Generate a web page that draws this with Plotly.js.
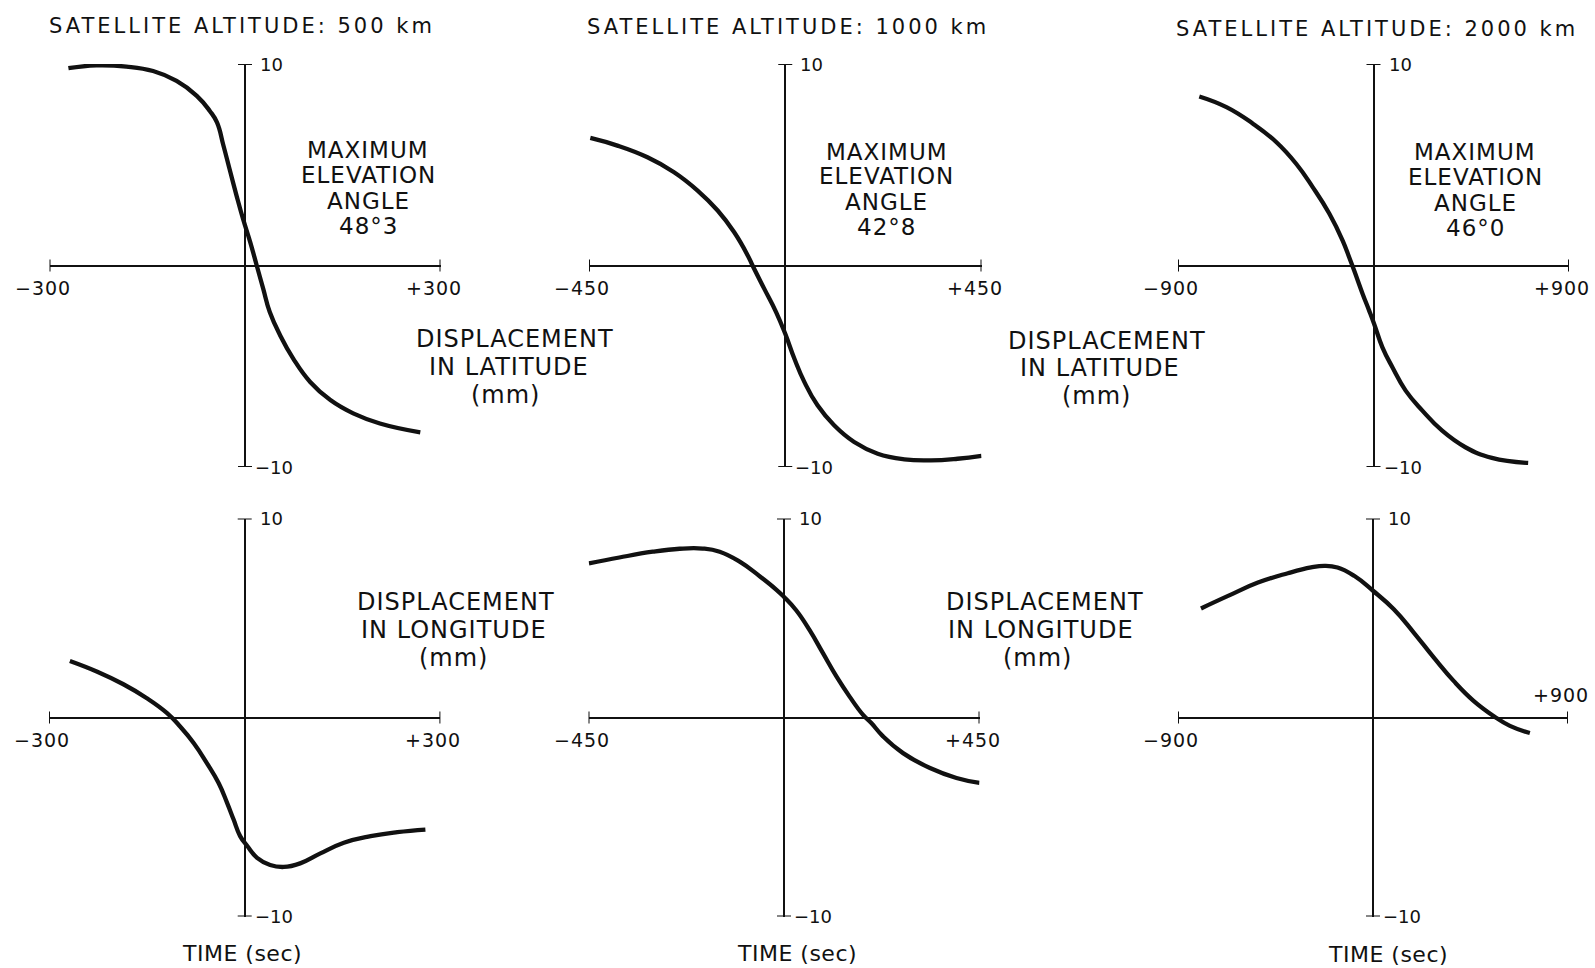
<!DOCTYPE html>
<html><head><meta charset="utf-8">
<script src="https://cdn.plot.ly/plotly-3.0.1.min.js"></script>
<style>html,body{margin:0;padding:0;background:#fff;}</style>
</head><body><div id="chart" style="width:1595px;height:968px;"></div>
<script>
// ---- data ----
const altitudes = ['500', '1000', '2000'];
const halfSpan = [300, 450, 900];
const elevationAngles = ['48°3', '42°8', '46°0'];
const xTickText = [['−300', '+300'], ['−450', '+450'], ['−900', '+900']];
const yTickText = ['10', '−10'];

// latitude displacement (mm) vs time (s)
const lat500T = [-271, -228, -182, -141, -105, -74, -54, -43, -33, -23, -13, -3, 8, 18, 28, 38, 54, 74, 100, 131, 166, 207, 269];
const lat500D = [9.79, 9.93, 9.87, 9.65, 9.16, 8.42, 7.67, 7.10, 5.94, 4.70, 3.47, 2.31, 1.16, 0.00, -1.16, -2.31, -3.47, -4.62, -5.78, -6.68, -7.34, -7.84, -8.28];
const lat1000T = [-447, -385, -316, -255, -201, -155, -117, -86, -75, -48, -21, 0, 21, 44, 74, 112, 158, 212, 273, 334, 395, 450];
const lat1000D = [6.33, 5.95, 5.37, 4.63, 3.72, 2.73, 1.65, 0.50, 0.00, -1.16, -2.31, -3.39, -4.63, -5.79, -6.94, -7.93, -8.76, -9.34, -9.62, -9.67, -9.59, -9.45];
const lat2000T = [-802, -677, -555, -448, -356, -280, -203, -142, -112, -89, -50, -20, 3, 41, 87, 148, 225, 316, 423, 545, 712];
const lat2000D = [8.39, 7.86, 7.04, 6.13, 5.05, 3.89, 2.57, 1.24, 0.41, -0.25, -1.41, -2.24, -2.90, -4.06, -5.05, -6.21, -7.20, -8.20, -9.02, -9.55, -9.80];

// longitude displacement (mm) vs time (s)
const lon500T = [-268, -226, -186, -150, -119, -99, -78, -58, -40, -27, -17, -7, 4, 19, 39, 60, 85, 116, 152, 193, 234, 277];
const lon500D = [2.84, 2.30, 1.67, 0.97, 0.22, -0.45, -1.29, -2.29, -3.29, -4.29, -5.13, -5.96, -6.46, -7.05, -7.41, -7.51, -7.33, -6.83, -6.29, -5.96, -5.76, -5.63];
const lon1000T = [-449, -379, -302, -240, -187, -148, -102, -56, -18, 0, 28, 59, 90, 121, 151, 182, 201, 228, 274, 336, 397, 450];
const lon1000D = [7.74, 8.04, 8.33, 8.48, 8.49, 8.33, 7.83, 7.10, 6.43, 6.06, 5.39, 4.39, 3.22, 2.05, 1.05, 0.13, -0.28, -0.95, -1.79, -2.54, -3.04, -3.29];
const lon2000T = [-794, -669, -531, -393, -286, -225, -164, -87, 0, 96, 188, 280, 372, 464, 560, 632, 724];
const lon2000D = [5.48, 6.11, 6.78, 7.25, 7.54, 7.62, 7.54, 7.12, 6.37, 5.44, 4.27, 3.02, 1.84, 0.84, 0.05, -0.42, -0.78];

const latSeries = [[lat500T, lat500D], [lat1000T, lat1000D], [lat2000T, lat2000D]];
const lonSeries = [[lon500T, lon500D], [lon1000T, lon1000D], [lon2000T, lon2000D]];

// ---- layout geometry ----
const W = 1595, H = 968;
const INK = '#111';
const FONT = 'DejaVu Sans';
const xDomains = [[49.5, 440.5], [589, 981.5], [1178, 1569], [49, 440.4], [588.5, 979.5], [1178, 1568]];
const yDomains = [[64, 467], [64, 467], [64, 467], [518.5, 916.5], [518.5, 916.5], [518.5, 916.5]];

function px(x) { return x / W; }
function py(y) { return 1 - y / H; }
function spaced(txt, ls) { return '<span style="letter-spacing:' + ls + 'px">' + txt + '</span>'; }

const traces = [];
const layout = {
  width: W, height: H,
  margin: {l: 0, r: 0, t: 0, b: 0},
  paper_bgcolor: '#ffffff', plot_bgcolor: 'rgba(0,0,0,0)',
  showlegend: false,
  font: {family: FONT, color: INK},
  annotations: [], shapes: []
};

for (let k = 0; k < 6; k++) {
  const col = k % 3;
  const T = halfSpan[col];
  const series = k < 3 ? latSeries[col] : lonSeries[col];
  const sx = k === 0 ? '' : String(k + 1);
  const xa = 'x' + sx, ya = 'y' + sx;
  traces.push({
    type: 'scatter', mode: 'lines', x: series[0], y: series[1],
    xaxis: xa, yaxis: ya, cliponaxis: false, hoverinfo: 'skip',
    line: {color: INK, width: 4.3, shape: 'spline', smoothing: 1.3}
  });
  const common = {showgrid: false, zeroline: true, zerolinecolor: INK, zerolinewidth: 2,
    showticklabels: false, ticks: '', showline: false, autorange: false, fixedrange: true};
  layout['xaxis' + sx] = Object.assign({}, common, {
    domain: [px(xDomains[k][0]), px(xDomains[k][1])], range: [-T, T], anchor: ya});
  layout['yaxis' + sx] = Object.assign({}, common, {
    domain: [py(yDomains[k][1]), py(yDomains[k][0])], range: [-10, 10], anchor: xa});

  // end caps of the axes
  [-T, T].forEach(function (v) {
    layout.shapes.push({type: 'line', xref: xa, yref: ya, x0: v, x1: v,
      ysizemode: 'pixel', yanchor: 0, y0: -6, y1: 6, line: {color: INK, width: 2}});
  });
  [10, -10].forEach(function (v) {
    layout.shapes.push({type: 'line', xref: xa, yref: ya, y0: v, y1: v,
      xsizemode: 'pixel', xanchor: 0, x0: -7, x1: 7, line: {color: INK, width: 2}});
  });

  // tick labels
  xTickText[col].forEach(function (t, i) {
    const above = (k === 5 && i === 1);
    layout.annotations.push({xref: xa, yref: ya, x: i === 0 ? -T : T, y: 0,
      text: spaced(t, 1), showarrow: false, xanchor: 'center', yanchor: 'middle',
      xshift: -7, yshift: above ? 23 : -22, font: {size: 19, family: FONT, color: INK}});
  });
  yTickText.forEach(function (t, i) {
    layout.annotations.push({xref: xa, yref: ya, x: 0, y: i === 0 ? 10 : -10,
      text: t, showarrow: false, xanchor: 'left', yanchor: 'middle',
      xshift: i === 0 ? 13 : 8, yshift: 0, font: {size: 18, family: FONT, color: INK}});
  });
}

function addText(txt, x, y, size, ls) {
  layout.annotations.push({xref: 'paper', yref: 'paper', x: px(x), y: py(y),
    text: spaced(txt, ls), showarrow: false, xanchor: 'center', yanchor: 'middle',
    font: {size: size, family: FONT, color: INK}});
}

// panel titles
const titlePos = [[241.6, 26], [787.8, 27], [1377, 28.5]];
altitudes.forEach(function (a, i) {
  addText('SATELLITE ALTITUDE: ' + a + ' km', titlePos[i][0], titlePos[i][1], 21, 3);
});

// maximum elevation blocks
const elevPos = [[368, [150.5, 175.5, 201, 226]], [886.5, [151.7, 176, 202, 227]], [1475, [152, 177, 203, 228]]];
elevationAngles.forEach(function (ang, i) {
  const lines = ['MAXIMUM', 'ELEVATION', 'ANGLE', ang];
  lines.forEach(function (l, j) { addText(l, elevPos[i][0], elevPos[i][1][j], 23, 1); });
});

// axis descriptions
const latLabel = ['DISPLACEMENT', 'IN LATITUDE', '(mm)'];
const lonLabel = ['DISPLACEMENT', 'IN LONGITUDE', '(mm)'];
const latLabelPos = [[[515, 339], [509, 366.5], [505.6, 395]], [[1107, 341], [1100, 367.5], [1096, 396]]];
const lonLabelPos = [[[456, 602], [454, 629.5], [453, 657.5]], [[1045, 602], [1040.6, 629.5], [1037.5, 657.5]]];
latLabelPos.forEach(function (p) { latLabel.forEach(function (l, j) { addText(l, p[j][0], p[j][1], 24, 1); }); });
lonLabelPos.forEach(function (p) { lonLabel.forEach(function (l, j) { addText(l, p[j][0], p[j][1], 24, 1); }); });

const timeLabel = 'TIME (sec)';
[[242, 953], [796.5, 953], [1387.5, 954]].forEach(function (p) { addText(timeLabel, p[0], p[1], 22, 0.5); });

Plotly.newPlot('chart', traces, layout, {staticPlot: true, displayModeBar: false});
</script></body></html>
